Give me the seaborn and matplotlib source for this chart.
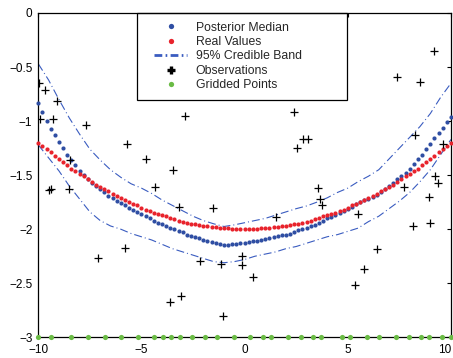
import numpy as np
import matplotlib
matplotlib.use("Agg")
import matplotlib.pyplot as plt
import matplotlib.transforms as mtransforms
import seaborn as sns
from matplotlib.lines import Line2D
from matplotlib.legend_handler import HandlerLine2D

# Evaluation grid for the fitted curves
grid_x = np.linspace(-10, 10, 101)

posterior_median = [
    -0.83, -0.92, -1.00, -1.07, -1.13, -1.19, -1.25, -1.31, -1.36, -1.41,
    -1.46, -1.50, -1.54, -1.57, -1.60, -1.63, -1.66, -1.69, -1.71, -1.74,
    -1.76, -1.78, -1.80, -1.82, -1.84, -1.86, -1.88, -1.90, -1.92, -1.94,
    -1.95, -1.97, -1.99, -2.00, -2.02, -2.03, -2.05, -2.06, -2.07, -2.08,
    -2.10, -2.11, -2.12, -2.13, -2.14, -2.15, -2.15, -2.14, -2.14, -2.13,
    -2.13,
    -2.12, -2.11, -2.11, -2.10, -2.09, -2.08, -2.07, -2.06, -2.05, -2.05,
    -2.04, -2.03, -2.01, -2.00, -1.99, -1.97, -1.96, -1.94, -1.92, -1.90,
    -1.89, -1.87, -1.85, -1.83, -1.81, -1.79, -1.77, -1.75, -1.73, -1.72,
    -1.70, -1.68, -1.66, -1.63, -1.60, -1.57, -1.54, -1.51, -1.48, -1.44,
    -1.40, -1.35, -1.31, -1.26, -1.21, -1.16, -1.11, -1.06, -1.01, -0.96,
]

real_values = [
    -1.20, -1.23, -1.26, -1.29, -1.32, -1.35, -1.38, -1.41, -1.44, -1.46,
    -1.49, -1.51, -1.54, -1.56, -1.59, -1.61, -1.63, -1.65, -1.67, -1.69,
    -1.71, -1.73, -1.75, -1.77, -1.78, -1.80, -1.82, -1.83, -1.85, -1.86,
    -1.87, -1.88, -1.90, -1.91, -1.92, -1.93, -1.94, -1.95, -1.95, -1.96,
    -1.97, -1.97, -1.98, -1.98, -1.99, -1.99, -1.99, -2.00, -2.00, -2.00,
    -2.00,
    -2.00, -2.00, -2.00, -1.99, -1.99, -1.99, -1.98, -1.98, -1.97, -1.97,
    -1.96, -1.95, -1.95, -1.94, -1.93, -1.92, -1.91, -1.90, -1.88, -1.87,
    -1.86, -1.85, -1.83, -1.82, -1.80, -1.78, -1.77, -1.75, -1.73, -1.71,
    -1.69, -1.67, -1.65, -1.63, -1.61, -1.59, -1.56, -1.54, -1.51, -1.49,
    -1.46, -1.44, -1.41, -1.38, -1.35, -1.32, -1.29, -1.26, -1.23, -1.20,
]

# 95% credible band, sampled every 0.5
band_x = np.linspace(-10, 10, 41)
band_upper = [
    -0.47, -0.62, -0.80, -0.97, -1.12, -1.26, -1.36, -1.45, -1.52, -1.58,
    -1.62, -1.67, -1.73, -1.78, -1.83, -1.88, -1.92, -1.95, -1.975, -1.96,
    -1.94, -1.92, -1.90, -1.87, -1.84, -1.81, -1.785, -1.75, -1.71, -1.66,
    -1.62, -1.56, -1.51, -1.45, -1.35, -1.25, -1.15, -1.05, -0.93, -0.78,
    -0.65,
]
band_lower = [
    -1.22, -1.34, -1.46, -1.60, -1.72, -1.84, -1.92, -1.97, -2.00, -2.04,
    -2.07, -2.10, -2.14, -2.18, -2.21, -2.24, -2.27, -2.30, -2.31, -2.30,
    -2.28, -2.25, -2.23, -2.21, -2.18, -2.16, -2.13, -2.10, -2.07, -2.05,
    -2.02, -1.99, -1.93, -1.88, -1.81, -1.74, -1.66, -1.56, -1.45, -1.31,
    -1.17,
]

# Noisy observations
obs_x = [
    -9.95, -9.69, -9.11, -9.92, -9.30, -7.69, -5.72, -8.48, -9.47, -9.37,
    -8.50, -5.82, -7.11, -2.90, -4.80, -3.46, -4.33, -3.17, -1.55, -2.14,
    -1.15, -0.15, -0.15, -3.62, -3.09, -1.04, 2.38, 2.83, 3.08, 2.54,
    3.56, 3.64, 3.77, 1.51, 0.41, 9.18, 7.38, 8.52, 8.24, 9.60,
    9.21, 9.37, 7.72, 5.50, 8.92, 8.16, 8.97, 6.42, 5.79, 5.37,
]
obs_y = [
    -0.65, -0.71, -0.81, -0.98, -0.98, -1.04, -1.21, -1.36, -1.64, -1.63,
    -1.63, -2.17, -2.27, -0.95, -1.35, -1.45, -1.61, -1.79, -1.80, -2.29,
    -2.32, -2.25, -2.33, -2.67, -2.62, -2.80, -0.92, -1.17, -1.17, -1.25,
    -1.62, -1.72, -1.78, -1.89, -2.44, -0.35, -0.59, -0.64, -1.13, -1.21,
    -1.51, -1.57, -1.61, -1.86, -1.70, -1.97, -1.94, -2.18, -2.37, -2.52,
]

# Grid locations, drawn along the bottom of the axes
gridded_x = [
    -10.0, -9.40, -8.40, -7.60, -6.79, -5.99, -5.19, -4.37, -3.96, -3.55,
    -3.15, -2.55, -1.94, -1.33, -0.53, 0.27, 0.90, 1.29, 2.11, 2.71,
    3.32, 3.71, 4.72, 5.11, 5.93, 6.53, 7.32, 7.95, 8.55, 8.95,
    9.56, 9.98,
]
gridded_level = -3.0

x_ticks = [-10, -5, 0, 5, 10]
x_tick_labels = ["\u221210", "\u22125", "0", "5", "10"]
y_ticks = [-3, -2.5, -2, -1.5, -1, -0.5, 0]
y_tick_labels = ["\u22123", "\u22122.5", "\u22122", "\u22121.5", "\u22121", "\u22120.5", "0"]

labels = ["Posterior Median", "Real Values", "95% Credible Band",
          "Observations", "Gridded Points"]

c_median = "#2f4ea3"
c_real = "#e8232c"
c_band = "#3a5cc0"
c_obs = "#000000"
c_grid = "#6abb45"

sns.set_theme(style="white")
plt.rcParams["font.family"] = ["Liberation Sans", "DejaVu Sans"]
plt.rcParams["axes.unicode_minus"] = True

fig = plt.figure(figsize=(4.53, 3.58), dpi=100)
ax = fig.add_axes([0.0845, 0.0578, 0.911, 0.9059])

band_style = (0, (7.2, 2.7, 0.9, 2.7))
sns.lineplot(x=band_x, y=band_upper, ax=ax, color=c_band, linewidth=0.8,
             linestyle=band_style, zorder=2)
sns.lineplot(x=band_x, y=band_lower, ax=ax, color=c_band, linewidth=0.8,
             linestyle=band_style, zorder=2)

sns.scatterplot(x=grid_x, y=posterior_median, ax=ax, color=c_median, s=9,
                linewidth=0, clip_on=False, zorder=3)
sns.scatterplot(x=grid_x, y=real_values, ax=ax, color=c_real, s=9,
                linewidth=0, clip_on=False, zorder=3)
sns.scatterplot(x=obs_x, y=obs_y, ax=ax, color=c_obs, marker="+", s=36,
                linewidth=0.9, zorder=4)
sns.scatterplot(x=gridded_x, y=[gridded_level] * len(gridded_x), ax=ax,
                color=c_grid, s=14, linewidth=0, clip_on=False, zorder=5)

ax.set_xlim(-10, 10)
ax.set_ylim(-3, 0)
ax.set_xticks(x_ticks)
ax.set_xticklabels(x_tick_labels)
ax.set_yticks(y_ticks)
ax.set_yticklabels(y_tick_labels)
ax.set_xlabel("")
ax.set_ylabel("")
for sp in ax.spines.values():
    sp.set_color("black")
    sp.set_linewidth(0.9)
ax.tick_params(direction="in", top=True, right=True, length=3.2, width=0.8,
               colors="black", labelsize=8.5)
ax.tick_params(axis="x", pad=4.5)
ax.tick_params(axis="y", pad=4.2)

# keep the last x label inside the figure edge
last = ax.get_xticklabels()[-1]
last.set_transform(last.get_transform() +
                   mtransforms.ScaledTranslation(-6 / 100, 0, fig.dpi_scale_trans))

handles = [
    Line2D([], [], ls="none", marker="o", ms=3.8, mew=0, color=c_median),
    Line2D([], [], ls="none", marker="o", ms=3.8, mew=0, color=c_real),
    Line2D([], [], color=c_band, lw=2.0, ls=(0, (2.8, 1.2, 0.6, 1.2))),
    Line2D([], [], ls="none", marker="+", ms=5.5, mew=2.4, color=c_obs),
    Line2D([], [], ls="none", marker="o", ms=3.8, mew=0, color=c_grid),
]
leg = ax.legend(handles=handles, labels=labels, loc="upper left",
                bbox_to_anchor=(0.2399, 0.0, 0.5074, 1.0), mode="expand",
                borderaxespad=0.0, fontsize=8.8, frameon=True, fancybox=False,
                framealpha=1.0, edgecolor="black", borderpad=0.7,
                labelspacing=0.2, handlelength=3.37, handletextpad=0.7,
                handler_map={Line2D: HandlerLine2D(xpad=0.67)})
leg.get_frame().set_linewidth(0.9)
# sit under the axis ticks, as the frame shares the top spine
leg.set_zorder(2.4)

fig.savefig("out.png", dpi=100, facecolor="white")
